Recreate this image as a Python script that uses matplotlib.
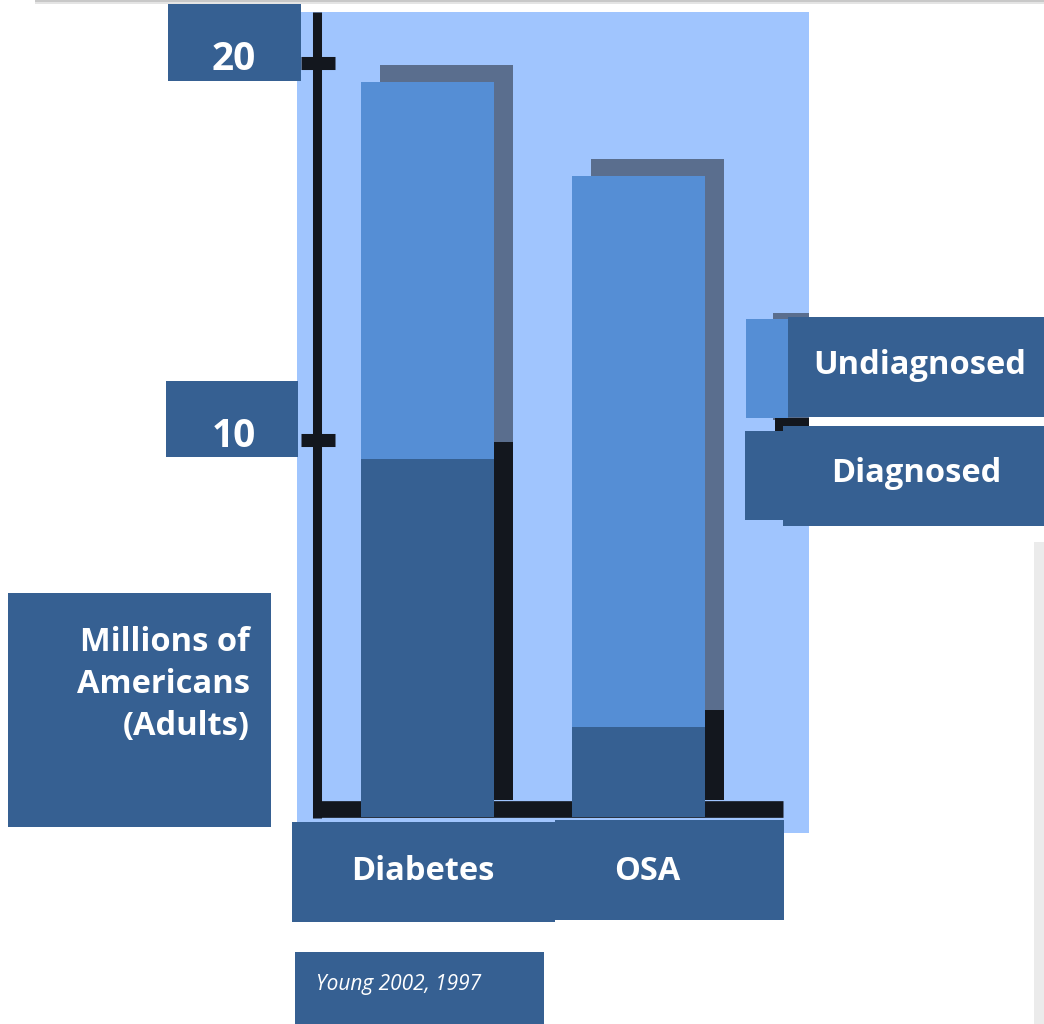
import matplotlib
matplotlib.use("Agg")
import matplotlib.pyplot as plt
from matplotlib.patches import Rectangle
from matplotlib.transforms import ScaledTranslation, blended_transform_factory

# ---------------- data ----------------
categories = ["Diabetes", "OSA"]
diagnosed = [9.5, 2.4]
undiagnosed = [10.0, 14.6]
series_names = ["Undiagnosed", "Diagnosed"]
y_ticks = [10, 20]
y_label_lines = ["Millions of", "Americans", "(Adults)"]
source = "Young 2002, 1997"

# ---------------- style ----------------
W, H = 1044, 1024
DARK = "#366092"
LIGHT = "#558ed5"
BG = "#a0c5fe"
BLACK = "#13171e"
SHADOW = "#5a6e8e"
FONT = ["Open Sans", "DejaVu Sans"]
plt.rcParams["font.family"] = FONT

fig = plt.figure(figsize=(W / 100, H / 100), dpi=100)

def fx(px):
    return px / W

def fy(py):
    return 1 - py / H

def box(x0, y0, x1, y1, color=DARK, z=1):
    fig.patches.append(Rectangle((fx(x0), fy(y1)), fx(x1 - x0), (y1 - y0) / H,
                                 transform=fig.transFigure, facecolor=color,
                                 edgecolor="none", zorder=z))

# page decorations
box(35, 0, 1044, 2, "#c8c8c8")
box(35, 2, 1044, 4, "#e4e4e4")
box(1034, 542, 1044, 1024, "#ebebeb")

# main axes (the light-blue plotting area)
ax = fig.add_axes([fx(297), fy(833), fx(809 - 297), (833 - 12) / H])
ax.set_facecolor(BG)
ax.set_zorder(0)
ax.set_ylim(-0.424, 21.353)
ax.set_xlim(-0.6185, 1.808)
for s in ax.spines.values():
    s.set_visible(False)
ax.set_xticks([])
ax.set_yticks([])

x = list(range(len(categories)))
width = 0.63

# shadows (same bars, shifted right/up)
shift = ScaledTranslation(0.19, 0.17, fig.dpi_scale_trans)
sh_u = ax.bar(x, undiagnosed, width, bottom=diagnosed, color=SHADOW, zorder=1)
sh_d = ax.bar(x, diagnosed, width, color=BLACK, zorder=1)
for p in list(sh_u) + list(sh_d):
    p.set_transform(ax.transData + shift)

# axis line, baseline and ticks
axis_x = -0.5237
ax.plot([axis_x, axis_x], [-0.03, 21.353], color=BLACK, lw=6.5, solid_capstyle="butt", zorder=1.5)
ax.plot([axis_x, 1.685], [0.20, 0.20], color=BLACK, lw=12, solid_capstyle="butt", zorder=1.5)
for t in y_ticks:
    ax.plot([axis_x - 0.076, axis_x + 0.085], [t, t], color=BLACK, lw=9.4,
            solid_capstyle="butt", zorder=1.6)

# bars
ax.bar(x, diagnosed, width, bottom=0, color=DARK, zorder=2)
ax.bar(x, undiagnosed, width, bottom=diagnosed, color=LIGHT, zorder=2)

# tick label boxes
box(168, 4, 301, 81)
box(166, 381, 298, 457)
fig_y = blended_transform_factory(fig.transFigure, ax.transData)
down = ScaledTranslation(0, -0.07, fig.dpi_scale_trans)
for t in y_ticks:
    fig.text(fx(234), t, str(t), transform=fig_y + down, ha="center", va="baseline",
             color="white", fontsize=28, fontweight="bold", zorder=5)

# y label box
box(8, 593, 271, 827)
for i, line in enumerate(y_label_lines):
    fig.text(fx(250), fy(651 + 42 * i), line, ha="right", va="baseline", color="white",
             fontsize=23.5, fontweight="bold", zorder=5)

# category boxes and labels
box(292, 822, 555, 922)
box(555, 820, 784, 920)
cat_tr = blended_transform_factory(ax.transData, fig.transFigure)
cat_dx = [-0.02, 0.04]
for i, c in enumerate(categories):
    fig.text(x[i] + cat_dx[i], fy(880), c, transform=cat_tr, ha="center", va="baseline",
             color="white", fontsize=23.5, fontweight="bold", zorder=5)

# legend
box(773, 313, 809, 420, SHADOW)
box(775, 418, 809, 520, BLACK)
box(746, 319, 788, 418, LIGHT)
box(745, 431, 783, 520, DARK)
box(788, 317, 1044, 417)
box(783, 426, 1044, 526)
fig.text(fx(920), fy(374), series_names[0], ha="center", va="baseline", color="white",
         fontsize=23.5, fontweight="bold", zorder=5)
fig.text(fx(916), fy(482), series_names[1], ha="center", va="baseline", color="white",
         fontsize=23.5, fontweight="bold", zorder=5)

# source box
box(295, 952, 544, 1024)
fig.text(fx(316), fy(990), source, ha="left", va="baseline", color="white",
         fontsize=15, fontstyle="italic", zorder=5)

fig.savefig("out.png", dpi=100)
